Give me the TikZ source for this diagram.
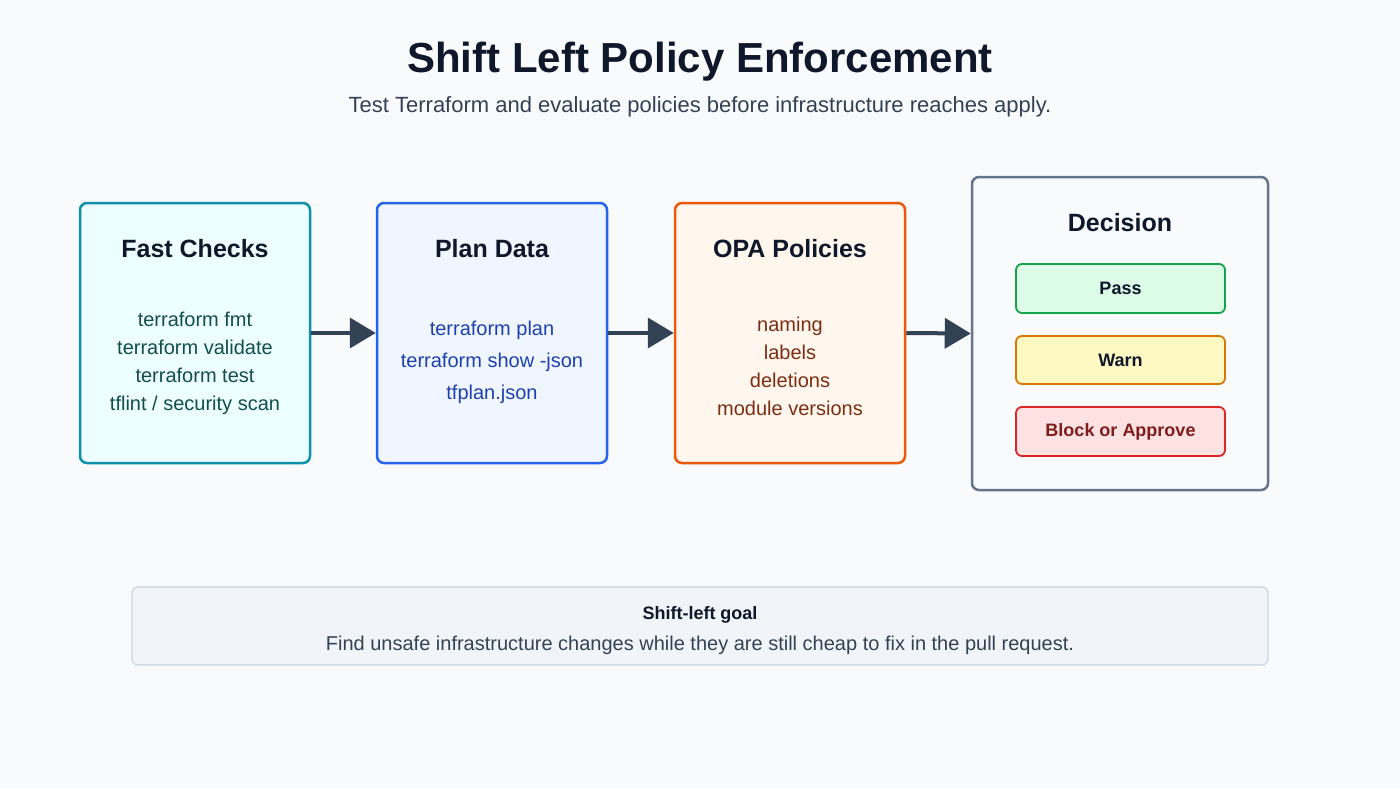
\documentclass[tikz,border=0pt]{standalone}
\usepackage{fontspec}
\setmainfont{Liberation Sans}
\usetikzlibrary{arrows.meta}
\definecolor{bg}{HTML}{F8FAFC}
\definecolor{ink}{HTML}{0F172A}
\definecolor{sub}{HTML}{334155}
\definecolor{tealb}{HTML}{0E90A8}\definecolor{tealf}{HTML}{ECFEFF}\definecolor{tealt}{HTML}{134E4A}
\definecolor{blueb}{HTML}{2563EB}\definecolor{bluef}{HTML}{EFF6FF}\definecolor{bluet}{HTML}{1E40AF}
\definecolor{orb}{HTML}{EA580C}\definecolor{orf}{HTML}{FFF7ED}\definecolor{ort}{HTML}{7C2D12}
\definecolor{grb}{HTML}{64748B}
\definecolor{pb}{HTML}{16A34A}\definecolor{pf}{HTML}{DCFCE7}
\definecolor{wb}{HTML}{D97706}\definecolor{wf}{HTML}{FEF9C3}
\definecolor{rb}{HTML}{DC2626}\definecolor{rf}{HTML}{FEE2E2}\definecolor{rt}{HTML}{7F1D1D}
\definecolor{gob}{HTML}{CBD5E1}\definecolor{gof}{HTML}{F1F5F9}
\tikzset{
 x=1pt,y=-1pt,
 card/.style={draw, line width=2.5pt, rounded corners=7pt},
 opt/.style={draw, line width=1.8pt, rounded corners=6pt},
 ttl/.style={font=\fontsize{25}{29}\selectfont\bfseries, text=ink},
 itm/.style={font=\fontsize{20}{28}\selectfont, align=center},
 arr/.style={draw=sub, line width=4pt, -{Triangle[length=26pt,width=30pt]}},
}
\begin{document}
\begin{tikzpicture}
\fill[bg] (0,0) rectangle (1400,788);
\useasboundingbox (0,0) rectangle (1400,788);
\node[font=\fontsize{42}{48}\selectfont\bfseries, text=ink] (title) at (700,62) {Shift Left Policy Enforcement};
\node[font=\fontsize{22}{26}\selectfont, text=sub] (subt) at (700,107) {Test Terraform and evaluate policies before infrastructure reaches apply.};

\node[card, draw=tealb, fill=tealf, minimum width=230pt,minimum height=260pt] (fc) at (195,333) {};
\node[ttl] (fct) at (195,249) {Fast Checks};
\node[itm, text=tealt] (fci) at (195,363) {terraform fmt\\terraform validate\\terraform test\\tflint / security scan};

\node[card, draw=blueb, fill=bluef, minimum width=230pt,minimum height=260pt] (pd) at (492,333) {};
\node[ttl] (pdt) at (492,249) {Plan Data};
\node[itm, text=bluet, font=\fontsize{20}{32}\selectfont] (pdi) at (492,362) {terraform plan\\terraform show -json\\tfplan.json};

\node[card, draw=orb, fill=orf, minimum width=230pt,minimum height=260pt] (op) at (790,333) {};
\node[ttl] (opt) at (790,249) {OPA Policies};
\node[itm, text=ort] (opi) at (790,366) {naming\\labels\\deletions\\module versions};

\node[card, draw=grb, fill=bg, minimum width=296pt,minimum height=313pt] (de) at (1120,333.5) {};
\node[ttl] (det) at (1120,223) {Decision};
\node[opt, draw=pb, fill=pf, minimum width=209pt, minimum height=49pt, font=\fontsize{18}{22}\selectfont\bfseries, text=ink] (pass) at (1120.5,288.5) {Pass};
\node[opt, draw=wb, fill=wf, minimum width=209pt, minimum height=48pt, font=\fontsize{18}{22}\selectfont\bfseries, text=ink] (warn) at (1120.5,360) {Warn};
\node[opt, draw=rb, fill=rf, minimum width=209pt, minimum height=49pt, font=\fontsize{18}{22}\selectfont\bfseries, text=rt] (block) at (1120.5,431.5) {Block or Approve};

\node[draw=gob, fill=gof, line width=1.2pt, rounded corners=6pt, minimum width=1136pt, minimum height=78pt] (goal) at (700,626) {};
\node[font=\fontsize{18}{21}\selectfont\bfseries, text=ink] (goalt) at (700,615) {Shift-left goal};
\node[font=\fontsize{20}{24}\selectfont, text=sub] (goali) at (700,645) {Find unsafe infrastructure changes while they are still cheap to fix in the pull request.};

\draw[arr] (fc.east) -- (pd.west);
\draw[arr] (pd.east) -- (op.west);
\draw[arr] (op.east) -- (de.west);
\end{tikzpicture}
\end{document}
